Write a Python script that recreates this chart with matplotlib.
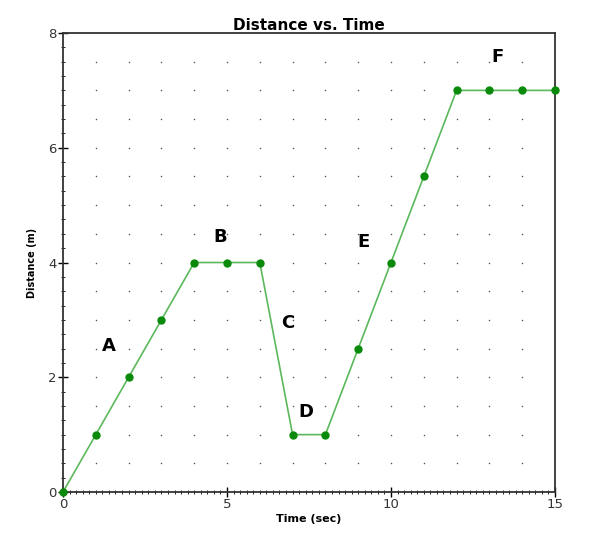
import numpy as np
import matplotlib
matplotlib.use("Agg")
import matplotlib.pyplot as plt
from matplotlib.ticker import MultipleLocator

# Data
time_s = [0, 1, 2, 3, 4, 5, 6, 7, 8, 9, 10, 11, 12, 13, 14, 15]
distance_m = [0, 1, 2, 3, 4, 4, 4, 1, 1, 2.5, 4, 5.5, 7, 7, 7, 7]

seg_labels = ["A", "B", "C", "D", "E", "F"]
seg_x = [1.4, 4.8, 6.85, 7.4, 9.15, 13.25]
seg_y = [2.55, 4.45, 2.95, 1.4, 4.35, 7.58]

fig = plt.figure(figsize=(6, 5.55), dpi=100)
ax = fig.add_axes([0.105, 0.1135, 0.82, 0.827])

# dotted background grid
gx, gy = np.meshgrid(np.arange(1, 15, 1), np.arange(0.5, 8, 0.5))
ax.scatter(gx.ravel(), gy.ravel(), s=1.2, color="#555555", zorder=1, linewidths=0)

ax.plot(time_s, distance_m, color="#5cb85c", lw=1.2, zorder=2)
ax.plot(time_s, distance_m, "o", color="#0a8a0a", ms=5, zorder=3, clip_on=False)

for lab, x, y in zip(seg_labels, seg_x, seg_y):
    ax.text(x, y, lab, fontsize=13, fontweight="bold", ha="center", va="center")

ax.set_xlim(0, 15)
ax.set_ylim(0, 8)
ax.xaxis.set_major_locator(MultipleLocator(5))
ax.xaxis.set_minor_locator(MultipleLocator(0.2))
ax.yaxis.set_major_locator(MultipleLocator(2))
ax.yaxis.set_minor_locator(MultipleLocator(0.25))
ax.tick_params(which="major", direction="inout", length=7, width=1, labelsize=9.5,
               labelcolor="#333333", pad=1)
ax.tick_params(which="minor", direction="inout", length=3, width=0.6)

for sp in ax.spines.values():
    sp.set_color("#333333")
    sp.set_linewidth(1.3)

ax.set_title("Distance vs. Time", fontsize=11, fontweight="bold", pad=2)
ax.set_xlabel("Time (sec)", fontsize=8, fontweight="bold", labelpad=2)
ax.set_ylabel("Distance (m)", fontsize=7, fontweight="bold", labelpad=8)

fig.savefig("out.png", dpi=100)
